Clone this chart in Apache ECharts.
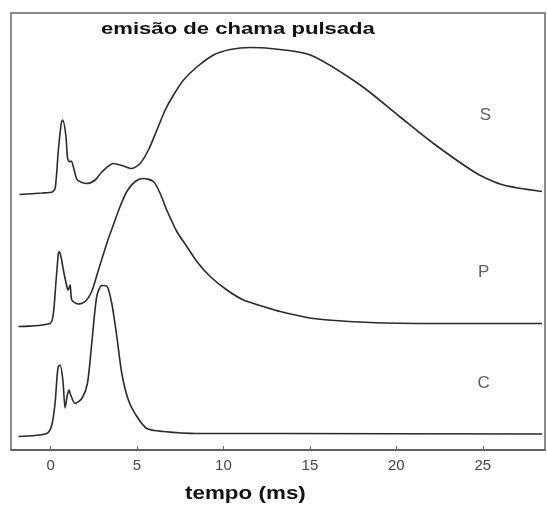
<!DOCTYPE html>
<html>
<head>
<meta charset="utf-8">
<script src="https://cdn.jsdelivr.net/npm/echarts@6/dist/echarts.min.js"></script>
<style>
  html, body { margin: 0; padding: 0; background: #fff; }
  #chart { width: 547px; height: 507px; }
</style>
</head>
<body>
<div id="chart"></div>
<script>
// emissão de chama pulsada: três traços (S, P, C) empilhados com deslocamento vertical

// tempo (ms) e intensidade (unidades arbitrárias, já com o deslocamento de cada traço)
const sTime = [-1.8, -0.5, 0.1, 0.27, 0.45, 0.62, 0.7, 0.88, 0.98, 1.1, 1.2, 1.35, 1.55, 2.1, 2.58, 2.96, 3.63, 4.21, 4.7, 5.18, 5.66, 6.15, 6.63, 7.11, 7.69, 8.46, 9.42, 10.39, 11.55, 12.7, 15.02, 17.91, 20.22, 22.15, 24.66, 26.2, 28.43];
const sValue = [255.5, 257, 258, 262, 300, 327, 330, 315, 292, 288, 289, 281, 270, 266.5, 270, 278, 286.5, 284, 281.5, 286.5, 300, 320, 340, 355, 370, 383, 395, 400.5, 402.5, 401.5, 395, 365, 333, 306.5, 276.5, 265, 258.5];

const pTime = [-1.86, -0.03, 0.16, 0.32, 0.45, 0.51, 0.64, 0.74, 0.94, 1.01, 1.13, 1.23, 1.61, 2.0, 2.38, 2.77, 3.25, 3.63, 4.02, 4.41, 4.89, 5.37, 5.95, 6.34, 6.72, 7.3, 7.88, 8.46, 9.23, 10.2, 11.16, 12.31, 13.28, 15.21, 18.49, 22.35, 28.43];
const pValue = [123.5, 126.5, 136.5, 170, 196.5, 198.5, 190, 180, 163.5, 160, 165, 150, 146, 148.5, 158.5, 180, 206.5, 225, 243.5, 258.5, 268.5, 271.5, 268.5, 256.5, 240, 218.5, 203.5, 188.5, 173.5, 160, 150, 143.5, 138.5, 131.5, 127.5, 126.5, 126.5];

const cTime = [-1.86, -0.22, 0.07, 0.26, 0.38, 0.45, 0.55, 0.71, 0.84, 0.97, 1.07, 1.13, 1.42, 1.81, 2.13, 2.38, 2.67, 2.96, 3.25, 3.54, 3.83, 4.12, 4.5, 4.99, 5.57, 6.53, 8.46, 13.28, 28.43];
const cValue = [13.5, 16.5, 25, 47, 75, 83.5, 85, 70, 42, 55, 60, 56.5, 46.5, 51.5, 66.5, 106.5, 153.5, 164.5, 164, 146.5, 113.5, 76.5, 50, 33.5, 21.5, 18.5, 16.5, 16.5, 16];

const tickValues = [0, 5, 10, 15, 20, 25];

// rótulos dos traços: [tempo, intensidade, texto]
const traceLabels = [[25.15, 335, "S"], [25.05, 178, "P"], [25.05, 67, "C"]];

const pairs = (xs, ys) => xs.map((x, i) => [x, ys[i]]);

const chart = echarts.init(document.getElementById("chart"), null, { renderer: "canvas" });

const lineStyle = { color: "#2a2a2a", width: 1.6 };

// o original usa uma fonte negrito mais larga: esticamos na horizontal
const boldText = { fontFamily: "Liberation Sans", fontWeight: "bold", fill: "#111" };

chart.setOption({
  backgroundColor: "#fff",
  animation: false,
  grid: {
    left: 11, right: 2, top: 13, bottom: 57,
    show: true, borderColor: "#666", borderWidth: 1.5
  },
  xAxis: {
    type: "value",
    min: -2.29,
    max: 28.6,
    axisLine: { show: true, lineStyle: { color: "#555", width: 1.5 } },
    axisTick: { show: true, inside: true, length: 4, customValues: tickValues, lineStyle: { color: "#666" } },
    axisLabel: {
      customValues: tickValues,
      margin: 8,
      fontFamily: "Liberation Sans",
      fontSize: 15,
      color: "#444"
    },
    splitLine: { show: false }
  },
  yAxis: {
    type: "value",
    min: 0,
    max: 437,
    show: false
  },
  graphic: [
    {
      type: "text",
      x: 101,
      y: 21,
      scaleX: 1.3,
      style: { ...boldText, text: "emisão de chama pulsada", fontSize: 17 }
    },
    {
      type: "text",
      x: 185,
      y: 484,
      scaleX: 1.18,
      style: { ...boldText, text: "tempo (ms)", fontSize: 19 }
    }
  ],
  series: [
    { name: "S", type: "line", data: pairs(sTime, sValue), smooth: 0.25, symbol: "none", lineStyle },
    { name: "P", type: "line", data: pairs(pTime, pValue), smooth: 0.25, symbol: "none", lineStyle },
    { name: "C", type: "line", data: pairs(cTime, cValue), smooth: 0.25, symbol: "none", lineStyle },
    {
      name: "rótulos",
      type: "scatter",
      symbolSize: 0,
      data: traceLabels.map((d) => ({ value: [d[0], d[1]], label: { formatter: d[2] } })),
      label: {
        show: true,
        position: "inside",
        fontFamily: "Liberation Sans",
        fontSize: 17,
        color: "#333"
      }
    }
  ]
});
</script>
</body>
</html>
